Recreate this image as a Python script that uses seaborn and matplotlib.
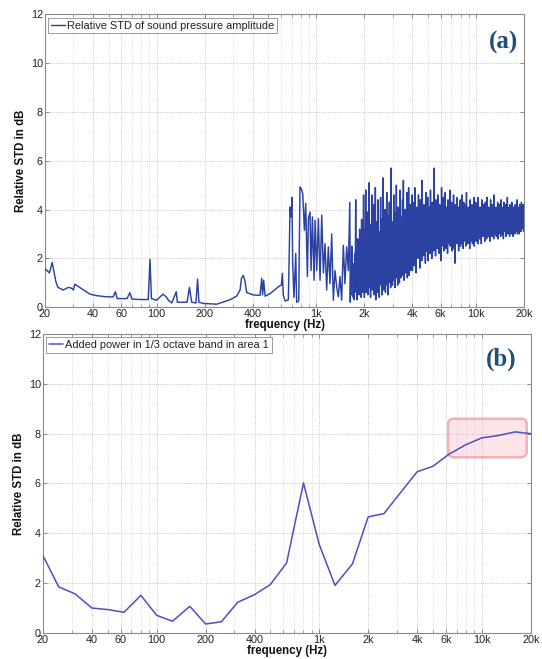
import numpy as np
import pandas as pd
import matplotlib
matplotlib.use("Agg")
import matplotlib.pyplot as plt
import seaborn as sns
from matplotlib.patches import FancyBboxPatch
from matplotlib.ticker import LogLocator, NullFormatter

# ---------------- data: panel (a) ----------------
freq_low = [20, 20.3, 21.3, 22.2, 23.4, 24.1, 26.0, 28.0, 29.4, 30.1, 30.8, 32.1, 34.9, 38.3,
            42.1, 48.8, 53.4, 55.2, 56.6, 65.3, 68.0, 70.0, 78.8, 88.6, 90.9, 92.8, 100.0,
            109.5, 114.8, 118.6, 124.5, 132.6, 134.9, 155.2, 160.5, 165.8, 176.3, 180.5, 184,
            196, 238, 288, 317, 333, 340, 349, 358, 366, 403, 444, 455, 461, 468, 478, 513,
            592, 604, 613, 621, 637, 668, 678, 684, 694, 704, 711, 725, 743, 753, 776, 790,
            806, 822, 842, 858, 879, 892, 913, 927, 945, 968, 982, 1006, 1030, 1055, 1081,
            1107, 1134, 1161, 1189, 1218, 1248, 1278, 1309, 1341, 1373, 1406, 1441, 1476,
            1511, 1549, 1586]
std_low = [1.55, 1.54, 1.40, 1.83, 1.04, 0.81, 0.70, 0.81, 0.77, 0.70, 0.94, 0.86, 0.70, 0.53,
           0.47, 0.42, 0.42, 0.63, 0.35, 0.35, 0.59, 0.33, 0.31, 0.31, 1.95, 0.35, 0.28,
           0.53, 0.42, 0.28, 0.17, 0.63, 0.20, 0.20, 0.81, 0.20, 0.17, 1.15, 0.20,
           0.15, 0.12, 0.30, 0.45, 0.70, 1.18, 1.30, 1.05, 0.60, 0.50, 0.48, 1.18, 0.50, 1.10, 0.45, 0.55,
           0.88, 0.90, 1.38, 0.50, 0.25, 0.30, 2.5, 4.1, 3.7, 4.5, 1.8, 0.4, 2.2, 0.2, 0.25, 4.93,
           4.85, 4.66, 3.15, 4.25, 1.25, 3.63, 3.9, 1.5, 3.7, 1.1, 3.56, 1.5, 3.63, 1.1, 3.77,
           1.4, 2.6, 0.7, 2.47, 0.96, 3.0, 0.28, 1.5, 0.83, 0.42, 1.25, 0.28, 2.54,
           0.96, 2.47, 1.5]

# dense (FFT-like) part, read as alternating peaks / troughs per band
band_a_edges = (1620, 1990)
std_band_a = [4.3, 0.2, 1.4, 0.5, 2.5, 0.9, 1.8, 0.4, 1.2, 0.3, 2.2, 0.8, 4.4, 0.6, 1.6, 0.3,
              2.8, 1.0, 1.9, 0.5, 3.2, 0.7, 2.4, 0.4, 3.6, 0.9, 2.1, 0.6, 4.6, 1.1]
band_b_edges = (2000, 3980)
std_band_b = [0.4, 3.2, 1.1, 4.8, 0.6, 2.7, 0.9, 3.9, 0.5, 2.2, 1.3, 5.1, 0.8, 3.4, 0.4, 2.9,
              1.2, 4.6, 0.7, 3.0, 1.5, 4.2, 0.5, 2.6, 1.0, 4.9, 0.3, 3.5, 1.4, 2.8, 0.6, 4.4,
              1.1, 3.1, 0.4, 2.5, 1.6, 4.5, 0.9, 3.6, 0.5, 2.7, 1.2, 5.3, 0.7, 3.3, 1.5, 4.0,
              0.6, 2.9, 1.3, 4.7, 0.9, 3.8, 0.5, 2.4, 1.7, 4.3, 1.0, 3.2, 0.8, 5.7, 1.4, 3.5,
              0.9, 2.8, 1.8, 4.6, 1.1, 3.9, 0.8, 2.6, 1.6, 5.0, 1.2, 3.4, 0.9, 4.1, 1.9, 3.0,
              1.0, 4.8, 1.5, 3.7, 1.2, 2.9, 2.0, 4.4, 1.3, 5.2, 1.1, 3.6, 1.7, 4.0, 1.4, 2.7,
              2.1, 4.7, 1.2, 3.3, 1.6, 4.9, 1.3, 3.8, 1.8, 4.2, 1.5, 3.1, 2.2, 4.6]
band_c_edges = (4000, 9950)
std_band_c = [1.5, 4.3, 2.2, 3.8, 1.7, 4.9, 2.6, 3.5, 1.4, 4.1, 2.9, 3.9, 2.0, 4.6, 2.4, 3.3,
              1.6, 4.4, 3.0, 3.7, 1.9, 5.2, 2.5, 3.6, 2.1, 4.2, 2.8, 4.0, 1.8, 4.7, 2.3, 3.4,
              2.7, 4.5, 1.9, 3.9, 2.6, 4.1, 2.2, 4.8, 2.9, 3.5, 2.0, 4.3, 2.5, 3.8, 2.3, 5.7,
              2.7, 3.6, 2.1, 4.4, 3.0, 3.9, 2.4, 4.6, 2.8, 3.7, 2.2, 4.2, 2.6, 4.0, 1.9, 4.9,
              2.9, 3.6, 2.5, 4.5, 2.3, 3.8, 2.7, 4.7, 2.4, 4.1, 3.0, 3.7, 2.2, 4.4, 2.8, 3.9,
              2.6, 4.8, 2.5, 3.5, 2.9, 4.3, 2.3, 4.0, 2.7, 4.6, 2.4, 3.8, 1.8, 4.2, 2.9, 3.6,
              2.6, 4.5, 2.8, 4.1, 2.3, 3.9, 2.7, 4.4, 2.5, 3.7, 3.0, 4.6, 2.6, 4.0, 2.4, 4.3,
              2.9, 3.8, 2.7, 4.2, 2.5, 4.7, 2.8, 3.6, 2.6, 4.1, 3.0, 3.9, 2.4, 4.4, 2.7, 3.7,
              2.9, 4.2, 2.6, 4.0, 2.8, 4.5, 2.5, 3.8, 2.9, 4.3]
band_d_edges = (10000, 20000)
std_band_d = [2.7, 4.2, 3.0, 3.8, 2.6, 4.5, 3.2, 3.9, 2.8, 4.1, 3.1, 3.7, 2.6, 4.4, 3.0, 3.9,
              2.9, 4.2, 3.3, 3.8, 2.7, 4.3, 3.1, 4.0, 2.8, 4.5, 3.2, 3.7, 2.9, 4.1, 3.0, 3.9,
              2.7, 4.4, 3.3, 3.8, 2.9, 4.2, 3.1, 4.0, 2.8, 4.6, 3.2, 3.9, 3.0, 4.1, 2.9, 3.8,
              3.3, 4.3, 2.8, 4.0, 3.1, 4.2, 3.0, 3.9, 2.9, 4.4, 3.2, 3.8, 3.0, 4.1, 2.8, 4.3,
              3.3, 3.9, 3.1, 4.2, 2.9, 4.0, 3.2, 4.5, 3.0, 3.8, 3.1, 4.1, 2.9, 4.2, 3.3, 3.9,
              3.0, 4.3, 3.2, 4.0, 2.9, 4.1, 3.1, 3.8, 3.0, 4.2, 3.3, 4.0, 3.1, 4.4, 3.0, 3.9,
              3.2, 4.1, 3.0, 4.2, 3.3, 3.9, 3.1, 4.3, 3.2, 4.0, 3.4, 4.2, 3.1, 3.9]

# ---------------- data: panel (b) ----------------
third_octave_bands = [20, 25, 31.5, 40, 50, 63, 80, 100, 125, 160, 200, 250, 315, 400, 500,
                      630, 800, 1000, 1250, 1600, 2000, 2500, 3150, 4000, 5000, 6300, 8000,
                      10000, 12500, 16000, 20000]
added_power = [3.10, 1.85, 1.57, 1.00, 0.94, 0.83, 1.51, 0.71, 0.47, 1.07, 0.36, 0.45, 1.23,
               1.54, 1.94, 2.81, 6.02, 3.55, 1.91, 2.77, 4.66, 4.79, 5.62, 6.47, 6.69, 7.18,
               7.56, 7.83, 7.92, 8.07, 8.00]

highlight_freq = (6200, 18900)
highlight_std = (7.05, 8.6)

xtick_vals = [20, 40, 60, 100, 200, 400, 1000, 2000, 4000, 6000, 10000, 20000]
xtick_labels = ["20", "40", "60", "100", "200", "400", "1k", "2k", "4k", "6k", "10k", "20k"]
ytick_vals = [0, 2, 4, 6, 8, 10, 12]

# ---------------- assemble ----------------
freq_a = np.concatenate([
    np.asarray(freq_low, float),
    np.geomspace(*band_a_edges, len(std_band_a)),
    np.geomspace(*band_b_edges, len(std_band_b)),
    np.geomspace(*band_c_edges, len(std_band_c)),
    np.geomspace(*band_d_edges, len(std_band_d)),
])
vals_a = np.concatenate([std_low, std_band_a, std_band_b, std_band_c, std_band_d])
df_a = pd.DataFrame({"freq": freq_a, "std": vals_a})
df_b = pd.DataFrame({"freq": third_octave_bands, "std": added_power})

sns.set_theme(style="white")
plt.rcParams["font.family"] = ["Liberation Sans", "DejaVu Sans"]

fig = plt.figure(figsize=(5.42, 6.59), dpi=100)
ax1 = fig.add_axes([0.083, 0.534, 0.884, 0.444])
ax2 = fig.add_axes([0.0793, 0.0395, 0.900, 0.4537])

sns.lineplot(data=df_a, x="freq", y="std", ax=ax1, color="#2b42a2", lw=1.05,
             estimator=None, sort=False, label="Relative STD of sound pressure amplitude", zorder=3)
sns.lineplot(data=df_b, x="freq", y="std", ax=ax2, color="#4b50c0", lw=1.1,
             estimator=None, sort=False, label="Added power in 1/3 octave band in area 1", zorder=3)


def style(ax):
    ax.set_xscale("log")
    ax.set_xlim(20, 20000)
    ax.set_ylim(0, 12)
    ax.set_xticks(xtick_vals)
    ax.set_xticklabels(xtick_labels)
    ax.xaxis.set_minor_locator(LogLocator(base=10, subs=np.arange(1, 10)))
    ax.xaxis.set_minor_formatter(NullFormatter())
    ax.set_yticks(ytick_vals)
    ax.tick_params(which="both", direction="in", top=True, right=True, bottom=True, left=True,
                   labelsize=7.8, labelcolor="#222222", color="#7a7a7a", pad=1.5)
    ax.tick_params(which="major", length=3, width=0.6)
    ax.tick_params(which="minor", length=2, width=0.5)
    ax.grid(True, which="major", axis="both", ls=":", color="#b4b4b4", lw=0.6)
    ax.grid(True, which="minor", axis="x", ls=":", color="#c8c8c8", lw=0.5)
    for s in ax.spines.values():
        s.set_color("#8a8a8a")
        s.set_linewidth(0.8)
    ax.set_xlabel("frequency (Hz)", fontsize=8.3, fontweight="bold", labelpad=0, color="#111111")
    ax.set_ylabel("Relative STD in dB", fontsize=8.3, fontweight="bold", labelpad=3, color="#111111")
    leg = ax.legend(loc="upper left", fontsize=7.9, frameon=True, fancybox=False,
                    borderaxespad=0.3, borderpad=0.25, handlelength=1.3, handletextpad=0.2)
    leg.get_frame().set_edgecolor("#8a8a8a")
    leg.get_frame().set_linewidth(0.6)
    leg.get_frame().set_alpha(1.0)
    for t in leg.get_texts():
        t.set_color("#222222")


style(ax1)
style(ax2)

ax1.text(0.956, 0.906, "(a)", transform=ax1.transAxes, fontsize=18, fontweight="bold",
         family="Liberation Serif", color="#1f4e79", ha="center", va="center")
ax2.text(0.94, 0.915, "(b)", transform=ax2.transAxes, fontsize=18, fontweight="bold",
         family="Liberation Serif", color="#1f4e79", ha="center", va="center")

# highlighted region in panel (b)
to_axes = ax2.transData + ax2.transAxes.inverted()
x0, y0 = to_axes.transform((highlight_freq[0], highlight_std[0]))
x1, y1 = to_axes.transform((highlight_freq[1], highlight_std[1]))
box = FancyBboxPatch((x0, y0), x1 - x0, y1 - y0,
                     boxstyle="round,pad=0,rounding_size=0.012",
                     mutation_aspect=488 / 299, transform=ax2.transAxes,
                     facecolor=(0.96, 0.62, 0.70, 0.28), edgecolor=(0.94, 0.55, 0.63, 0.65),
                     lw=1.8, zorder=2, clip_on=False)
ax2.add_patch(box)

fig.savefig("out.png", dpi=100)
